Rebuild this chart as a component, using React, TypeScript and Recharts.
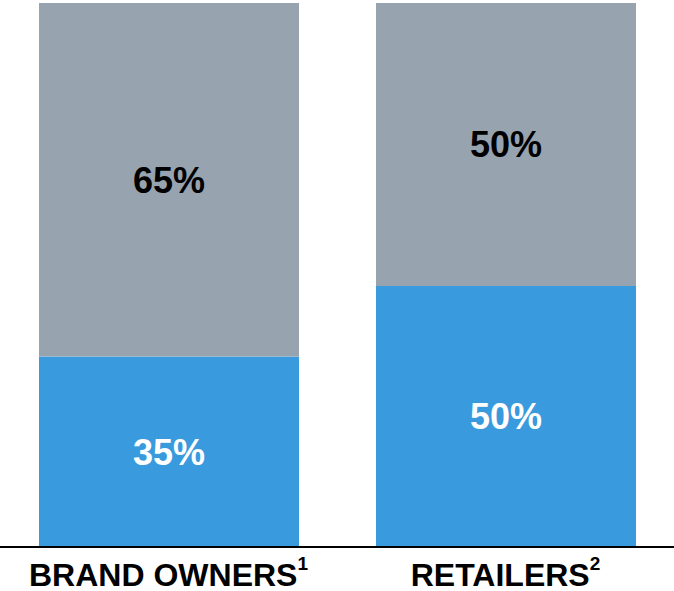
import * as React from "react";
import { BarChart, Bar, XAxis, YAxis, LabelList } from "recharts";

const GREY = "#97a3af";
const BLUE = "#3a9ade";
const FONT = "'Liberation Sans', Arial, sans-serif";

const categories = ["BRAND OWNERS", "RETAILERS"];
const footnotes = ["1", "2"];
// bar heights as drawn in the picture (the printed labels are rounded)
const blueShare = [35, 48];
const greyShare = [65, 52];
const blueLabels = ["35%", "50%"];
const greyLabels = ["65%", "50%"];

const data = categories.map((name, i) => ({
  name,
  blue: blueShare[i],
  grey: greyShare[i],
  blueLabel: blueLabels[i],
  greyLabel: greyLabels[i],
}));

function CategoryTick(props: any): React.ReactElement {
  const { x, y, payload, index } = props;
  const note = footnotes[index] ?? "";
  return (
    <text
      x={x}
      y={y + 39}
      textAnchor="middle"
      fontFamily={FONT}
      fontWeight={700}
      fontSize={32}
      fill="#000"
    >
      {payload.value}
      <tspan fontSize={19} dy={-16}>
        {note}
      </tspan>
    </text>
  );
}

export default function App(): React.ReactElement {
  return (
    <div style={{ position: "absolute", left: 0, top: 0, width: 674, height: 591, background: "#fff" }}>
      <BarChart
        width={674}
        height={591}
        data={data}
        margin={{ top: 3, right: 0, bottom: 0, left: 0 }}
        barCategoryGap={0}
        style={{ fontFamily: FONT }}
      >
        <XAxis
          dataKey="name"
          height={44}
          tickLine={false}
          tickSize={0}
          tickMargin={0}
          axisLine={{ stroke: "#000", strokeWidth: 2 }}
          tick={<CategoryTick />}
          interval={0}
        />
        <YAxis hide domain={[0, 100]} />
        <Bar dataKey="blue" stackId="s" fill={BLUE} barSize={260} isAnimationActive={false}>
          <LabelList
            dataKey="blueLabel"
            position="center"
            fill="#fff"
            fontSize={36}
            fontWeight={700}
            fontFamily={FONT}
          />
        </Bar>
        <Bar dataKey="grey" stackId="s" fill={GREY} barSize={260} isAnimationActive={false}>
          <LabelList
            dataKey="greyLabel"
            position="center"
            fill="#000"
            fontSize={36}
            fontWeight={700}
            fontFamily={FONT}
          />
        </Bar>
      </BarChart>
    </div>
  );
}
